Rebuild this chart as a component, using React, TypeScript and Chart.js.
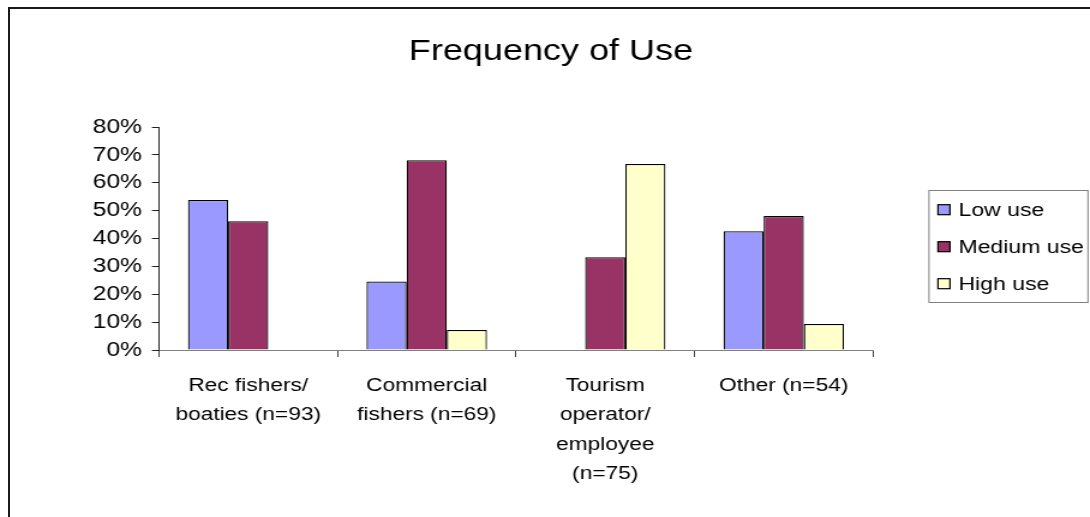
import { useEffect, useRef } from "react";
import { Chart, registerables } from "chart.js";

Chart.register(...registerables);

// ---- data ----
const categories: string[][] = [
  ["Rec fishers/", "boaties (n=93)"],
  ["Commercial", "fishers (n=69)"],
  ["Tourism", "operator/", "employee", "(n=75)"],
  ["Other (n=54)"],
];
const seriesNames = ["Low use", "Medium use", "High use"];
const lowUse = [53.8, 24.6, 0, 42.6];
const mediumUse = [46.2, 68.1, 33.3, 48.1];
const highUse = [0, 7.2, 66.7, 9.3];
const seriesColors = ["#9999FF", "#993366", "#FFFFCC"];
const yMax = 80;
const yStep = 10;
const chartTitle = "Frequency of Use";

// ---- layout (internal canvas is horizontally stretched by SX) ----
const PAGE_W = 1090;
const W = 908;
const SX = PAGE_W / W;
const H = 517;
const FONT = "'Liberation Sans', Arial, sans-serif";
const PAD_L = (2 * 551) / SX - W;

const boxLegend = {
  id: "boxLegend",
  afterDraw(chart: any) {
    const ctx = chart.ctx;
    ctx.save();
    const x0 = 929 / SX;
    const y0 = 190;
    const x1 = 1088 / SX;
    const y1 = 302;
    ctx.strokeStyle = "#808080";
    ctx.lineWidth = 1;
    ctx.strokeRect(x0, y0 + 0.5, x1 - x0, y1 - y0);
    ctx.font = `19.2px ${FONT}`;
    ctx.textBaseline = "alphabetic";
    ctx.textAlign = "left";
    chart.data.datasets.forEach((ds: any, i: number) => {
      const base = 215.7 + i * 37;
      const sx = 938 / SX;
      const sy = base - 11;
      ctx.fillStyle = ds.backgroundColor;
      ctx.fillRect(sx, sy, 10, 10);
      ctx.strokeStyle = "#000";
      ctx.lineWidth = 1.2;
      ctx.strokeRect(sx, sy, 10, 10);
      ctx.fillStyle = "#000";
      ctx.fillText(ds.label, 958.5 / SX, base);
    });
    ctx.restore();
  },
};

export default function App() {
  const ref = useRef<HTMLCanvasElement | null>(null);

  useEffect(() => {
    const canvas = ref.current!;
    canvas.style.width = `${PAGE_W}px`;
    canvas.style.height = `${H}px`;
    const values = [lowUse, mediumUse, highUse];
    const chart = new Chart(canvas, {
      type: "bar",
      data: {
        labels: categories,
        datasets: seriesNames.map((name, i) => ({
          label: name,
          data: values[i],
          backgroundColor: seriesColors[i],
          borderColor: "#000000",
          borderWidth: 1.25,
          categoryPercentage: 0.675,
          barPercentage: 1.0,
          yAxisID: "y",
        })),
      },
      options: {
        animation: false,
        responsive: false,
        devicePixelRatio: 1,
        layout: { padding: { left: PAD_L, right: 0, top: 0, bottom: 0 } },
        plugins: {
          legend: { display: false },
          tooltip: { enabled: false },
          title: {
            display: true,
            text: chartTitle,
            color: "#000",
            font: { family: FONT, size: 30, weight: "normal", lineHeight: 1.2 },
            padding: { top: 33.3, bottom: 57.7 },
          },
        },
        scales: {
          x: {
            type: "category",
            offset: true,
            grid: {
              display: true,
              drawOnChartArea: false,
              offset: true,
              tickLength: 7,
              color: "#404040",
            },
            border: { display: true, color: "#808080", width: 1 },
            ticks: {
              color: "#000",
              font: { family: FONT, size: 18.9, lineHeight: 29.3 / 18.9 },
              padding: 14.1,
              maxRotation: 0,
              minRotation: 0,
              autoSkip: false,
            },
            afterFit: (s: any) => {
              s.height = H - 350;
            },
          },
          y: {
            type: "linear",
            position: "left",
            min: 0,
            max: yMax,
            grid: {
              display: true,
              drawOnChartArea: false,
              tickLength: 7 / SX,
              color: "#222",
            },
            border: { display: true, color: "#222", width: 1 },
            ticks: {
              stepSize: yStep,
              color: "#000",
              padding: 10 / SX,
              font: { family: FONT, size: 20.5 },
              callback: (v: any) => `${v}%`,
            },
            afterFit: (s: any) => {
              s.width = 159 / SX - PAD_L;
            },
          },
          yR: {
            type: "linear",
            position: "right",
            display: true,
            grid: { display: false },
            border: { display: false },
            ticks: { display: false },
            afterFit: (s: any) => {
              s.width = W - 873 / SX;
            },
          },
        },
      },
      plugins: [boxLegend],
    });
    return () => chart.destroy();
  }, []);

  return (
    <>
      <canvas
        ref={ref}
        width={W}
        height={H}
        style={{ position: "fixed", left: 0, top: 0, width: PAGE_W, height: H, background: "#fff" }}
      />
      <div
        style={{
          position: "fixed",
          left: 8,
          top: 7,
          width: "calc(100vw - 8px)",
          height: "calc(100vh - 7px)",
          borderLeft: "2px solid #1a1a1a",
          borderTop: "2px solid #1a1a1a",
          boxSizing: "border-box",
          pointerEvents: "none",
        }}
      />
    </>
  );
}
